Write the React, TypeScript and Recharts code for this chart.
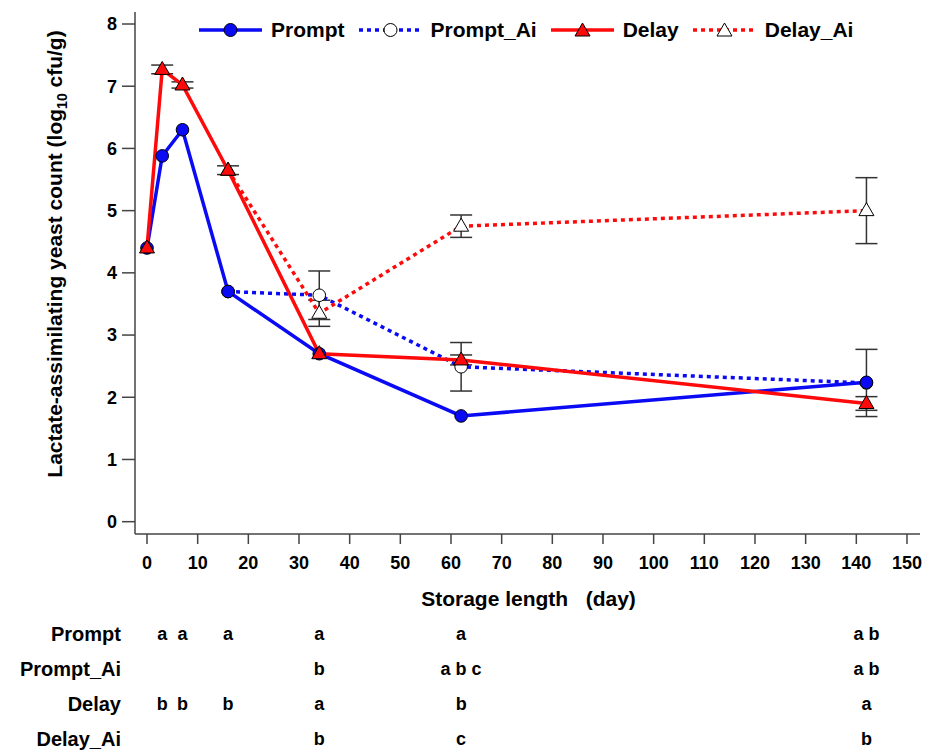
import React from 'react';
import { LineChart, Line, XAxis, YAxis, ErrorBar, Legend } from 'recharts';

const FONT = '"Liberation Sans", Arial, Helvetica, sans-serif';
const BLUE = '#0a0af5';
const RED = '#ff0a0a';
const AXIS = '#444444';

// storage days
const days = [0, 3, 7, 16, 34, 62, 142];

// series means (log10 cfu/g)
const promptVals = [4.4, 5.88, 6.3, 3.7, 2.7, 1.7, 2.24];
const promptAiVals = [null, null, null, 3.7, 3.64, 2.49, 2.23];
const delayVals = [4.4, 7.27, 7.02, 5.65, 2.7, 2.6, 1.9];
const delayAiVals = [null, null, null, 5.65, 3.35, 4.75, 5.0];

// error bar half-widths
const promptErr = [null, null, null, null, null, null, null];
const promptAiErr = [null, null, null, null, 0.39, 0.39, 0.54];
const delayErr = [null, 0.07, 0.05, 0.07, null, 0.08, 0.11];
const delayAiErr = [null, null, null, null, 0.21, 0.18, 0.53];

// axis ticks
const xTicks = [0, 10, 20, 30, 40, 50, 60, 70, 80, 90, 100, 110, 120, 130, 140, 150];
const yTicks = [0, 1, 2, 3, 4, 5, 6, 7, 8];

// significance letters per row
const rowNames = ['Prompt', 'Prompt_Ai', 'Delay', 'Delay_Ai'];
const promptLetters = ['', 'a', 'a', 'a', 'a', 'a', 'a b'];
const promptAiLetters = ['', '', '', '', 'b', 'a b c', 'a b'];
const delayLetters = ['', 'b', 'b', 'b', 'a', 'b', 'a'];
const delayAiLetters = ['', '', '', '', 'b', 'c', 'b'];
const rowLetters = [promptLetters, promptAiLetters, delayLetters, delayAiLetters];

type Pt = { day: number; v: number; e?: number };
const build = (vals: (number | null)[], errs: (number | null)[]): Pt[] =>
  days
    .map((d, i) => ({ day: d, v: vals[i] as number, e: errs[i] == null ? undefined : (errs[i] as number) }))
    .filter((p) => p.v != null);

const promptData = build(promptVals, promptErr);
const promptAiData = build(promptAiVals, promptAiErr);
const delayData = build(delayVals, delayErr);
const delayAiData = build(delayAiVals, delayAiErr);

const X_DOMAIN: [number, number] = [-2.37, 152.57];

const triPoints = (cx: number, cy: number) =>
  `${cx},${cy - 8} ${cx - 7.5},${cy + 5} ${cx + 7.5},${cy + 5}`;

const makeTriDot = (fill: string) => (props: any) => {
  const { cx, cy, index } = props;
  if (cx == null || cy == null) return <g key={`t${index}`} />;
  return <polygon key={`t${index}`} points={triPoints(cx, cy)} fill={fill} stroke="#000" strokeWidth={1} />;
};

const makeCircleDot = (fill: string) => (props: any) => {
  const { cx, cy, index } = props;
  if (cx == null || cy == null) return <g key={`c${index}`} />;
  return <circle key={`c${index}`} cx={cx} cy={cy} r={6.3} fill={fill} stroke="#000" strokeWidth={1} />;
};

const legendItems = [
  { name: 'Prompt', color: BLUE, dashed: false, marker: 'circle', fill: BLUE },
  { name: 'Prompt_Ai', color: BLUE, dashed: true, marker: 'circle', fill: '#fff' },
  { name: 'Delay', color: RED, dashed: false, marker: 'tri', fill: RED },
  { name: 'Delay_Ai', color: RED, dashed: true, marker: 'tri', fill: '#fff' },
];

const renderLegend = () => (
  <div style={{ display: 'flex', alignItems: 'center', gap: 14, fontFamily: FONT, fontWeight: 'bold', fontSize: 21, color: '#000' }}>
    {legendItems.map((it) => (
      <div key={it.name} style={{ display: 'flex', alignItems: 'center' }}>
        <svg width={63} height={20} style={{ display: 'block' }}>
          <line x1={0} y1={10} x2={63} y2={10} stroke={it.color} strokeWidth={3.5} strokeDasharray={it.dashed ? '4 4' : undefined} />
          {it.marker === 'circle' ? (
            <circle cx={31.5} cy={10} r={6.5} fill={it.fill} stroke="#000" strokeWidth={1} />
          ) : (
            <polygon points={triPoints(31.5, 11)} fill={it.fill} stroke="#000" strokeWidth={1} />
          )}
        </svg>
        <span style={{ marginLeft: 9, lineHeight: '20px', whiteSpace: 'pre' }}>{it.name}</span>
      </div>
    ))}
  </div>
);

const YLabel = (props: any) => {
  const vb = props.viewBox || { x: 0, y: 0 };
  const x = (vb.x || 0) + 62;
  const y = 254;
  return (
    <text x={x} y={y} transform={`rotate(-90, ${x}, ${y})`} textAnchor="middle" fontFamily={FONT} fontWeight="bold" fontSize={21} fill="#000">
      Lactate-assimilating yeast count (log
      <tspan fontSize={14} dy={5}>10</tspan>
      <tspan dy={-5}> cfu/g)</tspan>
    </text>
  );
};

const XTitle = (props: any) => {
  const vb = props.viewBox || { x: 0, y: 0, width: 0 };
  return (
    <text x={vb.x + vb.width / 2 + 1} y={vb.y + 64} textAnchor="middle" dominantBaseline="central" fontFamily={FONT} fontWeight="bold" fontSize={21} fill="#000" style={{ whiteSpace: 'pre' }}>
      {'Storage length   (day)'}
    </text>
  );
};

const makeRowLabel = (name: string) => (props: any) => {
  const vb = props.viewBox || { x: 0, y: 0 };
  return (
    <text x={vb.x - 14} y={vb.y + 17} textAnchor="end" dominantBaseline="central" fontFamily={FONT} fontWeight="bold" fontSize={20} fill="#000">
      {name}
    </text>
  );
};

const makeLetterTick = (letters: string[]) => (props: any) => {
  const { x, y, payload } = props;
  const idx = days.indexOf(payload.value);
  const t = idx >= 0 ? letters[idx] : '';
  return (
    <text x={x} y={y + 17} textAnchor="middle" dominantBaseline="central" fontFamily={FONT} fontWeight="bold" fontSize={18} fill="#000" style={{ whiteSpace: 'pre' }}>
      {t}
    </text>
  );
};

const errSeries = [
  { key: 'pa', data: promptAiData },
  { key: 'da', data: delayAiData },
  { key: 'd', data: delayData },
];

export default function App() {
  return (
    <div style={{ position: 'absolute', left: 0, top: 0, background: '#fff' }}>
      <LineChart width={929} height={751} margin={{ top: 12, right: 9, bottom: 12, left: 0 }}>
        <XAxis
          xAxisId={0}
          dataKey="day"
          type="number"
          domain={X_DOMAIN}
          allowDataOverflow
          ticks={xTicks}
          interval={0}
          height={83}
          tickSize={10}
          tickMargin={12}
          stroke={AXIS}
          strokeWidth={1.5}
          tick={{ fontSize: 18, fontWeight: 'bold', fill: '#000', fontFamily: FONT }}
          label={<XTitle />}
        />
        {rowNames.map((name, r) => {
          const letters = rowLetters[r];
          const ticks = days.filter((_, i) => letters[i] !== '');
          return (
            <XAxis
              key={name}
              xAxisId={`row${r}`}
              dataKey="day"
              type="number"
              domain={X_DOMAIN}
              allowDataOverflow
              ticks={ticks}
              interval={0}
              height={r === 3 ? 17 : 35}
              axisLine={false}
              tickLine={false}
              tickSize={0}
              tickMargin={0}
              tick={makeLetterTick(letters)}
              label={makeRowLabel(name)}
            />
          );
        })}
        <YAxis
          type="number"
          domain={[-0.198, 8.193]}
          allowDataOverflow
          ticks={yTicks}
          interval={0}
          width={135}
          tickSize={13}
          tickMargin={5}
          stroke={AXIS}
          strokeWidth={1.5}
          tick={{ fontSize: 18, fontWeight: 'bold', fill: '#000', fontFamily: FONT }}
          label={<YLabel />}
        />
        <Legend
          content={renderLegend}
          layout="horizontal"
          verticalAlign="middle"
          align="center"
          wrapperStyle={{ position: 'absolute', top: 20, left: 199, width: 720 }}
        />
        {errSeries.map((s) => (
          <Line
            key={s.key}
            data={s.data}
            dataKey="v"
            stroke="none"
            dot={false}
            activeDot={false}
            legendType="none"
            isAnimationActive={false}
          >
            <ErrorBar dataKey="e" direction="y" width={11} stroke="#333" strokeWidth={1.5} />
          </Line>
        ))}
        <Line
          data={promptAiData}
          dataKey="v"
          name="Prompt_Ai"
          stroke={BLUE}
          strokeWidth={3.5}
          strokeDasharray="4 4"
          dot={makeCircleDot('#fff')}
          activeDot={false}
          isAnimationActive={false}
        />
        <Line
          data={delayAiData}
          dataKey="v"
          name="Delay_Ai"
          stroke={RED}
          strokeWidth={3.5}
          strokeDasharray="4 4"
          dot={makeTriDot('#fff')}
          activeDot={false}
          isAnimationActive={false}
        />
        <Line
          data={promptData}
          dataKey="v"
          name="Prompt"
          stroke={BLUE}
          strokeWidth={3.5}
          dot={makeCircleDot(BLUE)}
          activeDot={false}
          isAnimationActive={false}
        />
        <Line
          data={delayData}
          dataKey="v"
          name="Delay"
          stroke={RED}
          strokeWidth={3.5}
          dot={makeTriDot(RED)}
          activeDot={false}
          isAnimationActive={false}
        />
      </LineChart>
    </div>
  );
}
